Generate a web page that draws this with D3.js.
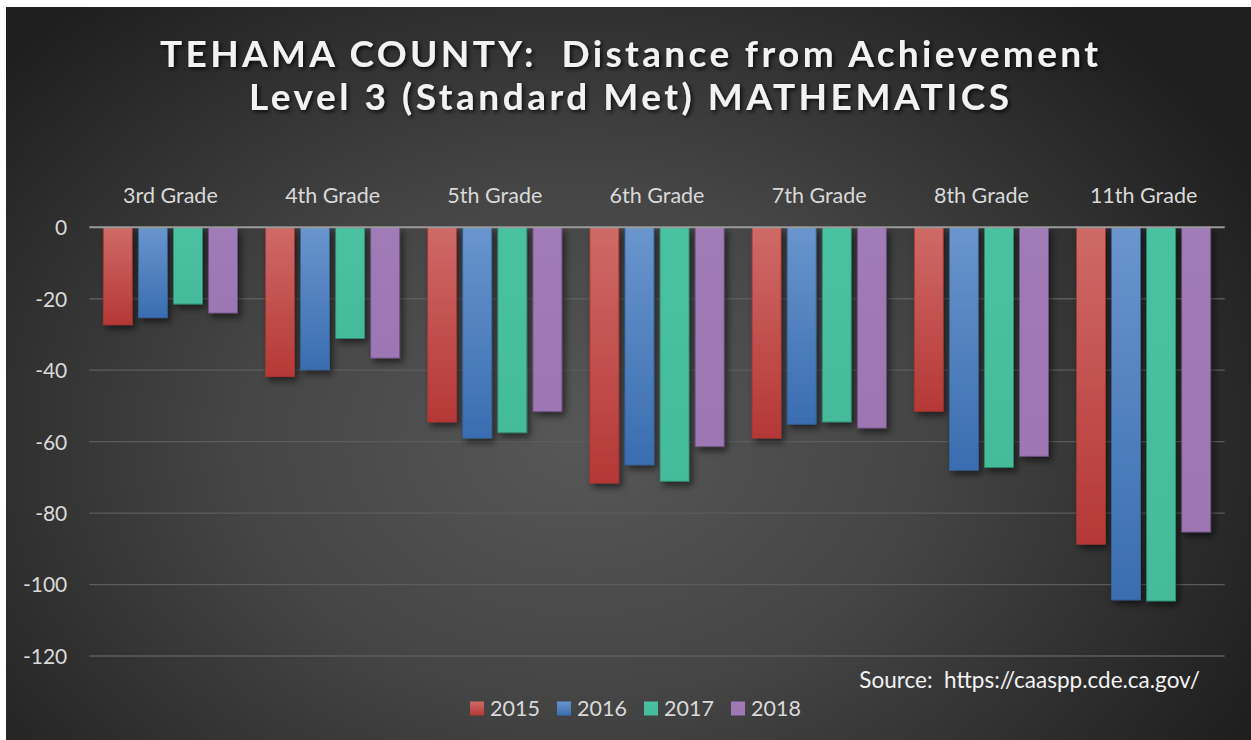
<!DOCTYPE html>
<html><head><meta charset="utf-8">
<script src="https://cdn.jsdelivr.net/npm/d3@7"></script>
<style>html,body{margin:0;padding:0;background:#fff;}svg{display:block;} text{white-space:pre;}</style>
</head><body>
<svg id="chart" width="1251" height="740"></svg>
<script>
const categories = ["3rd Grade","4th Grade","5th Grade","6th Grade","7th Grade","8th Grade","11th Grade"];
const seriesNames = ["2015","2016","2017","2018"];
const values2015 = [-27.3, -41.8, -54.5, -71.6, -59.0, -51.5, -88.7];
const values2016 = [-25.3, -39.9, -59.0, -66.5, -55.1, -68.0, -104.3];
const values2017 = [-21.5, -31.1, -57.5, -71.1, -54.5, -67.2, -104.6];
const values2018 = [-24.0, -36.6, -51.6, -61.4, -56.2, -64.1, -85.3];
const yTicks = [0,-20,-40,-60,-80,-100,-120];
const titleLines = ["TEHAMA COUNTY:  Distance from Achievement","Level 3 (Standard Met) MATHEMATICS"];
const sourceText = "Source:  https://caaspp.cde.ca.gov/";

const allSeries = [values2015, values2016, values2017, values2018];
const colors = [
  {top:"#cf6a67", bot:"#b53836", stroke:"#a53533"},
  {top:"#6a95cd", bot:"#3a6db0", stroke:"#34649f"},
  {top:"#4ac2a2", bot:"#44bb9b", stroke:"#2e8a70"},
  {top:"#a07bb8", bot:"#9d77b3", stroke:"#6e5180"}
];
const font = "Lato, 'Open Sans', sans-serif";

const svg = d3.select("#chart");
const defs = svg.append("defs");

const bg = defs.append("radialGradient").attr("id","bg")
  .attr("gradientUnits","userSpaceOnUse").attr("cx",580).attr("cy",440).attr("r",760)
  .attr("gradientTransform","translate(580,440) scale(1,0.75) translate(-580,-440)");
bg.append("stop").attr("offset","0%").attr("stop-color","#575757");
bg.append("stop").attr("offset","45%").attr("stop-color","#454545");
bg.append("stop").attr("offset","100%").attr("stop-color","#1f1f1f");

colors.forEach((c,i)=>{
  const g = defs.append("linearGradient").attr("id","g"+i).attr("x1",0).attr("y1",0).attr("x2",0).attr("y2",1);
  g.append("stop").attr("offset","0%").attr("stop-color",c.top);
  g.append("stop").attr("offset","100%").attr("stop-color",c.bot);
});

const f = defs.append("filter").attr("id","shadow").attr("x","-30%").attr("y","-10%").attr("width","170%").attr("height","130%");
f.append("feDropShadow").attr("dx",3).attr("dy",4).attr("stdDeviation",3.5).attr("flood-color","#000").attr("flood-opacity",0.55);

const tf = defs.append("filter").attr("id","tshadow").attr("x","-5%").attr("y","-20%").attr("width","110%").attr("height","150%");
tf.append("feDropShadow").attr("dx",2).attr("dy",2).attr("stdDeviation",2).attr("flood-color","#000").attr("flood-opacity",0.8);

svg.append("rect").attr("x",6).attr("y",7).attr("width",1245).attr("height",733).attr("fill","url(#bg)");

// Title
const titleY = [67, 110];
const titleW = [938, 760];
titleLines.forEach((t,i)=>{
  svg.append("text").attr("x",629).attr("y",titleY[i]).attr("text-anchor","middle")
    .attr("xml:space","preserve")
    .attr("font-family",font).attr("font-weight",700).attr("font-size",37)
    .attr("fill","#f2f2f2").attr("filter","url(#tshadow)")
    .attr("textLength",titleW[i]).attr("lengthAdjust","spacing")
    .text(t);
});

const left = 89.3, right = 1224.7;
const x0 = d3.scaleBand().domain(categories).range([left,right]).paddingInner(0).paddingOuter(0);
const x1 = d3.scaleBand().domain(seriesNames).range([14, x0.bandwidth()-14]).paddingInner(0.175).paddingOuter(0);
const y = d3.scaleLinear().domain([-120,0]).range([656,227.3]);

// gridlines
const grid = svg.append("g");
grid.selectAll("line").data(yTicks.filter(d=>d!==0)).join("line")
  .attr("x1",left).attr("x2",right).attr("y1",d=>y(d)).attr("y2",d=>y(d))
  .attr("stroke","#5c5c5c").attr("stroke-width",1.3);

// y axis labels via axis
const yAxis = d3.axisLeft(y).tickValues(yTicks).tickSize(0).tickPadding(22).tickFormat(d3.format("d"));
const ya = svg.append("g").attr("transform",`translate(${left},0)`).call(yAxis);
ya.select(".domain").remove();
ya.selectAll("text").attr("font-family",font).attr("font-size",21).attr("fill","#d9d9d9").attr("dy","0.35em")
  .text(d=>d===0?"0":"-"+Math.abs(d));

// bars
const groups = svg.append("g").selectAll("g").data(categories).join("g")
  .attr("transform",d=>`translate(${x0(d)},0)`);
groups.selectAll("rect").data((c,ci)=>seriesNames.map((s,si)=>({s,si,v:allSeries[si][ci]}))).join("rect")
  .attr("x",d=>x1(d.s)).attr("width",x1.bandwidth())
  .attr("y",y(0)).attr("height",d=>y(d.v)-y(0))
  .attr("fill",d=>`url(#g${d.si})`)
  .attr("stroke",d=>colors[d.si].stroke).attr("stroke-width",0.8)
  .attr("filter","url(#shadow)");

// zero line
svg.append("line").attr("x1",left).attr("x2",right).attr("y1",y(0)).attr("y2",y(0))
  .attr("stroke","#9a9a9a").attr("stroke-width",2);

// category labels (top axis)
const xAxis = d3.axisTop(x0).tickSize(0).tickPadding(0);
const xa = svg.append("g").attr("transform","translate(0,203)").call(xAxis);
xa.select(".domain").remove();
xa.selectAll("text").attr("font-family",font).attr("font-size",21.5).attr("fill","#d9d9d9").attr("dy",0);

// source
svg.append("text").attr("x",1200).attr("y",688).attr("text-anchor","end")
  .attr("xml:space","preserve")
  .attr("font-family",font).attr("font-size",22.5).attr("fill","#f2f2f2").text(sourceText);

// legend
const legendX = [470,557,644,731];
const lg = svg.append("g").selectAll("g").data(seriesNames).join("g")
  .attr("transform",(d,i)=>`translate(${legendX[i]},701.5)`);
lg.append("rect").attr("width",14).attr("height",14).attr("fill",(d,i)=>`url(#g${i})`);
lg.append("text").attr("x",20).attr("y",14).attr("font-family",font).attr("font-size",21.5)
  .attr("fill","#d9d9d9").text(d=>d);
</script>
</body></html>
